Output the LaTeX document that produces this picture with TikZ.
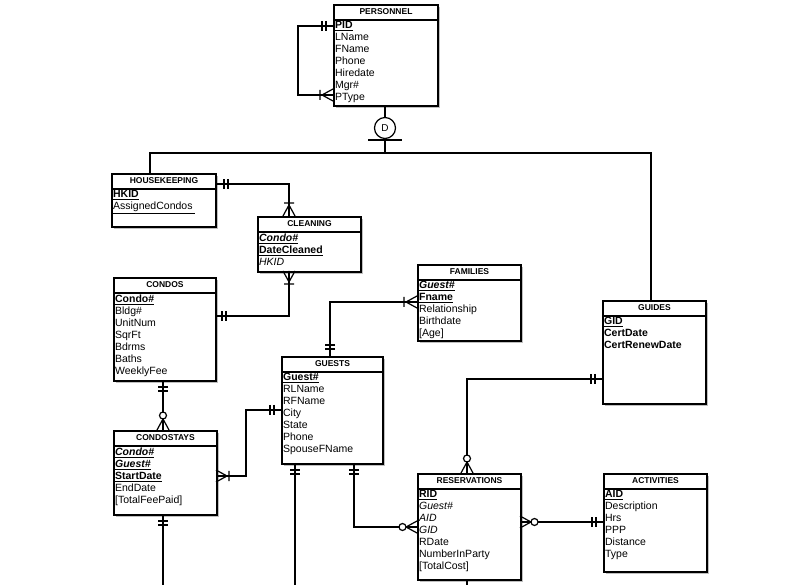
\documentclass[tikz,border=0pt]{standalone}
\usepackage{fontspec}
\setmainfont{Liberation Sans}
\begin{document}
\begin{tikzpicture}[x=1pt,y=-1pt,line width=1.3pt,
  ent/.style={draw,fill=white,line width=2pt,inner sep=0pt,rectangle},
  one/.pic={\draw[line width=1.2pt] (7pt,-5pt)--(7pt,5pt) (11pt,-5pt)--(11pt,5pt);},
  bar/.pic={\draw[line width=1.2pt] (0pt,-5pt)--(0pt,5pt);},
  manyone/.pic={\draw[line width=1.2pt] (0pt,-6pt)--(11pt,0pt)--(0pt,6pt) (0pt,0pt)--(11pt,0pt) (13pt,-5pt)--(13pt,5pt);},
  manyzero/.pic={\draw[line width=1.2pt] (0pt,-6pt)--(11pt,0pt)--(0pt,6pt) (0pt,0pt)--(11pt,0pt);
     \draw[line width=1.2pt,fill=white] (14.5pt,0pt) circle (3.5pt);}]
\useasboundingbox (0,0) rectangle (812,585);
\clip (0,0) rectangle (812,585);
\newcommand\ent[7]{%
  \fill[black!25] (#2+3,#3+3) rectangle ++(#4,#5);
  \node[ent,minimum width=#4pt,minimum height=#5pt,anchor=north west] (#1) at (#2,#3) {};
  \node[font=\bfseries\fontsize{8.5}{9}\selectfont] at ([yshift=-8pt]#1.north) {#6};
  \draw[line width=1.3pt] ([yshift=-16pt]#1.north west) -- ([yshift=-16pt]#1.north east);
  \node[anchor=north west,align=left,inner xsep=1.5pt,inner ysep=1pt,font=\fontsize{10.5}{12}\selectfont] at ([yshift=-16pt]#1.north west) {#7};}
\newcommand\bu[1]{\underline{\textbf{#1}}}
\newcommand\biu[1]{\underline{\textbf{\textit{#1}}}}

\ent{pers}{333}{4}{104}{101}{PERSONNEL}{\bu{PID}\\LName\\FName\\Phone\\Hiredate\\Mgr\#\\PType}
\ent{hk}{111}{173}{104}{53}{HOUSEKEEPING}{\bu{HKID}\\\underline{AssignedCondos }}
\ent{clean}{257}{216}{103}{55}{CLEANING}{\biu{Condo\#}\\\bu{DateCleaned}\\\textit{HKID}}
\ent{condos}{113}{277}{102}{103}{CONDOS}{\bu{Condo\#}\\Bldg\#\\UnitNum\\SqrFt\\Bdrms\\Baths\\WeeklyFee}
\ent{fam}{417}{264}{103}{76}{FAMILIES}{\biu{Guest\#}\\\bu{Fname}\\Relationship\\Birthdate\\{[Age]}}
\ent{guests}{281}{356}{101}{107}{GUESTS}{\bu{Guest\#}\\RLName\\RFName\\City\\State\\Phone\\SpouseFName}
\ent{guides}{602}{300}{103}{103}{GUIDES}{\bu{GID}\\\textbf{CertDate}\\\textbf{CertRenewDate}}
\ent{cstay}{113}{430}{103}{84}{CONDOSTAYS}{\biu{Condo\#}\\\biu{Guest\#}\\\bu{StartDate}\\EndDate\\{[TotalFeePaid]}}
\ent{res}{417}{473}{103}{106}{RESERVATIONS}{\bu{RID}\\\textit{Guest\#}\\\textit{AID}\\\textit{GID}\\RDate\\NumberInParty\\{[TotalCost]}}
\ent{act}{603}{473}{103}{98}{ACTIVITIES}{\bu{AID}\\Description\\Hrs\\PPP\\Distance\\Type}

% self loop
\coordinate (pa) at ([yshift=-22pt]pers.north west);
\coordinate (pb) at ([yshift=-91pt]pers.north west);
\draw (pa) -- ++(-35,0) |- (pb);
\pic[rotate=180] at (pa) {one};
\pic[rotate=180] at (pb) {manyone};

% disjoint
\node[circle,draw,line width=1.2pt,fill=white,minimum size=21pt,inner sep=0pt,font=\fontsize{10}{11}\selectfont] (d) at (385,128) {D};
\coordinate (split) at (385,153);
\coordinate (hkt) at (150,173);
\coordinate (gdt) at (651,300);
\draw (d.north) -- (d.north|-pers.south);
\draw (d) -- (split);
\draw (368,140) -- (402,140);
\draw (hkt) |- (split) -| (gdt);

% hk -> cleaning
\coordinate (h1) at ([yshift=-11pt]hk.north east);
\coordinate (c1) at (289,216);
\draw (h1) -| (c1);
\pic at (h1) {one};
\pic[rotate=90] at (c1) {manyone};

% condos -> cleaning
\coordinate (co1) at (215,316);
\coordinate (c2) at (289,271);
\draw (co1) -| (c2);
\pic at (co1) {one};
\pic[rotate=-90] at (c2) {manyone};

% guests -> families
\coordinate (g1) at (330,356);
\coordinate (f1) at (417,302);
\draw (g1) |- (f1);
\pic[rotate=90] at (g1) {one};
\pic[rotate=180] at (f1) {manyone};

% condos -> condostays
\coordinate (co2) at (163,380);
\coordinate (cs1) at (163,430);
\draw (co2) -- (cs1);
\pic[rotate=-90] at (co2) {one};
\pic[rotate=90] at (cs1) {manyzero};

% guests -> condostays
\coordinate (g2) at (281,410);
\coordinate (cs2) at (216,476);
\draw (g2) -- (246,410) |- (cs2);
\pic[rotate=180] at (g2) {one};
\pic at (cs2) {manyone};

% condostays down
\coordinate (cs3) at (163,514);
\coordinate (e1) at (163,585);
\draw (cs3) -- (e1);
\pic[rotate=-90] at (cs3) {one};

% guests down
\coordinate (g3) at (295,463);
\coordinate (e2) at (295,585);
\draw (g3) -- (e2);
\pic[rotate=-90] at (g3) {one};

% guests -> reservations
\coordinate (g4) at (354,463);
\coordinate (r1) at (417,527);
\draw (g4) |- (r1);
\pic[rotate=-90] at (g4) {one};
\pic[rotate=180] at (r1) {manyzero};

% guides -> reservations
\coordinate (gd1) at (602,379);
\coordinate (r2) at (467,473);
\draw (gd1) -| (r2);
\pic[rotate=180] at (gd1) {one};
\pic[rotate=90] at (r2) {manyzero};

% reservations -> activities
\coordinate (r3) at (520,522);
\coordinate (a1) at (603,522);
\draw (r3) -- (a1);
\pic at (r3) {manyzero};
\pic[rotate=180] at (a1) {one};

% reservations down
\coordinate (r4) at (467,579);
\coordinate (e3) at (467,585);
\draw (r4) -- (e3);
\pic at (467,584) {bar};
\end{tikzpicture}
\end{document}
